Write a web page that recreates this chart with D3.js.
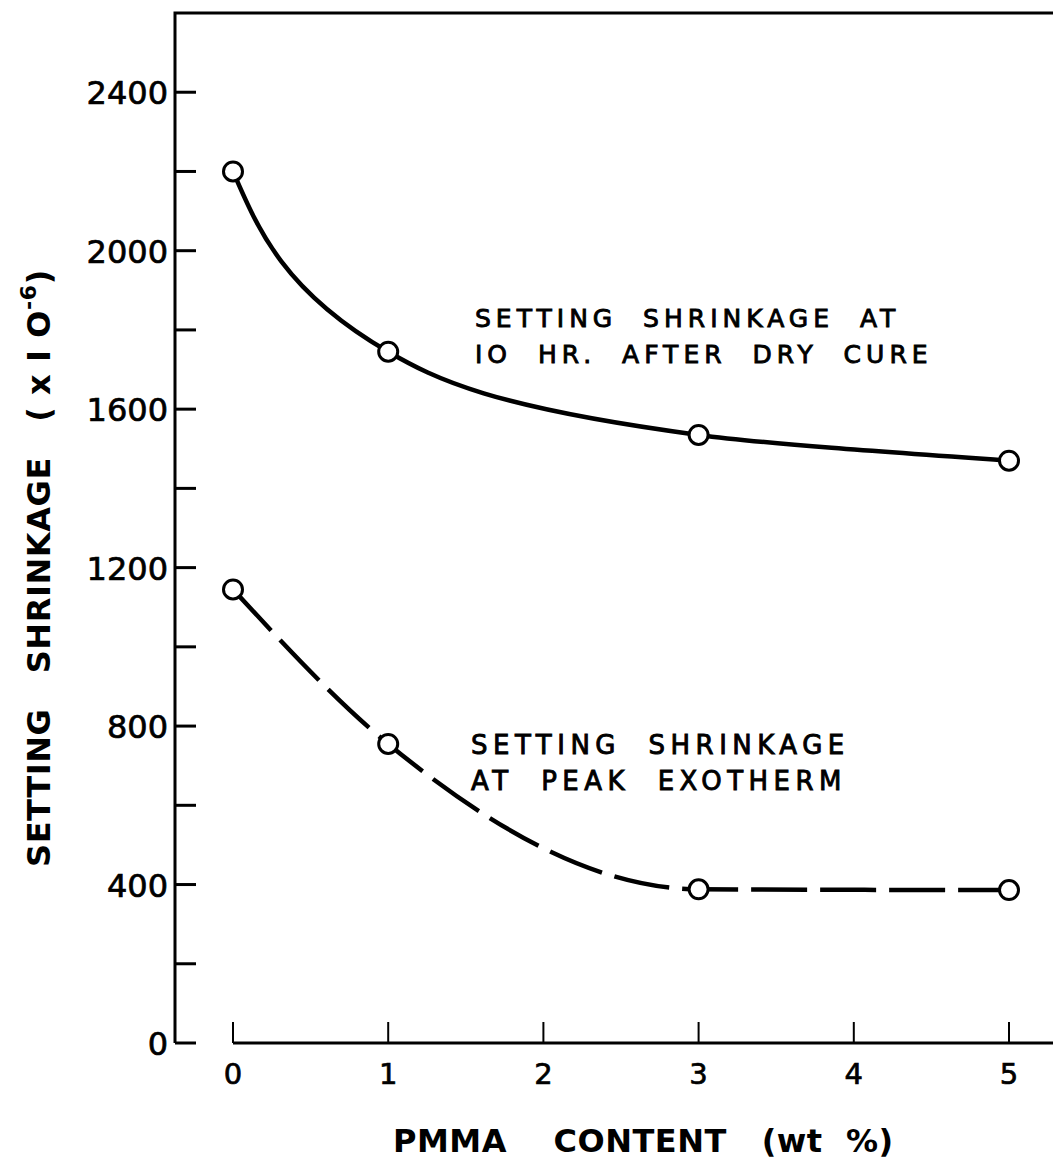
<!DOCTYPE html>
<html>
  <body style="margin:0;background:#fff">
    <style>
      svg { display: block; }
      text { font-family: "DejaVu Sans", sans-serif; fill: #000; white-space: pre; }
      .num { font-size: 32px; }
      .title { font-size: 32px; font-weight: bold; }
      .note { stroke: #000; stroke-width: 0.9px; }
    </style>
    <script src="https://d3js.org/d3.v7.min.js"></script>
    <script type="text/javascript">
      const width = 1053;
      const height = 1159;

      const pmma = [0, 1, 3, 5];
      const dryCure = [2200, 1745, 1535, 1470];
      const peakExotherm = [1145, 755, 388, 386];

      const xTicks = [0, 1, 2, 3, 4, 5];
      const yMajor = [0, 400, 800, 1200, 1600, 2000, 2400];
      const yAll = [0, 200, 400, 600, 800, 1000, 1200, 1400, 1600, 1800, 2000, 2200, 2400];

      const svg = d3.select('body')
        .append('svg')
        .attr('width', width)
        .attr('height', height);

      const x = d3.scaleLinear().domain([0, 5]).range([233, 1009]);
      const y = d3.scaleLinear().domain([0, 2600]).range([1043, 13]);

      // frame: left axis + top line
      svg.append('path')
        .attr('d', `M${width},${y(2600)}H175V${y(0)}`)
        .attr('fill', 'none')
        .attr('stroke', '#000')
        .attr('stroke-width', 3);

      // y ticks
      svg.append('g')
        .selectAll('line')
        .data(yAll)
        .enter()
        .append('line')
        .attr('x1', 175)
        .attr('x2', 196)
        .attr('y1', (d) => y(d))
        .attr('y2', (d) => y(d))
        .attr('stroke', '#000')
        .attr('stroke-width', 3);

      svg.append('g')
        .selectAll('text')
        .data(yMajor)
        .enter()
        .append('text')
        .attr('class', 'num')
        .attr('x', 168)
        .attr('y', (d) => y(d) + 12)
        .attr('text-anchor', 'end')
        .attr('stroke', '#000')
        .attr('stroke-width', 0.7)
        .text((d) => d);

      // x axis
      svg.append('line')
        .attr('x1', x(0))
        .attr('x2', width)
        .attr('y1', y(0))
        .attr('y2', y(0))
        .attr('stroke', '#000')
        .attr('stroke-width', 3);

      svg.append('g')
        .selectAll('line')
        .data(xTicks)
        .enter()
        .append('line')
        .attr('x1', (d) => x(d))
        .attr('x2', (d) => x(d))
        .attr('y1', y(0))
        .attr('y2', y(0) - 21)
        .attr('stroke', '#000')
        .attr('stroke-width', 2);

      svg.append('g')
        .selectAll('text')
        .data(xTicks)
        .enter()
        .append('text')
        .attr('x', (d) => x(d))
        .attr('y', 1084)
        .attr('text-anchor', 'middle')
        .attr('font-size', 29)
        .attr('stroke', '#000')
        .attr('stroke-width', 0.7)
        .text((d) => d);

      // titles
      svg.append('text')
        .attr('class', 'title')
        .attr('x', 393)
        .attr('y', 1152)
        .attr('letter-spacing', 0.5)
        .text('PMMA    CONTENT   (wt  %)');

      const yt = svg.append('text')
        .attr('class', 'title')
        .attr('transform', 'translate(50,568) rotate(-90)')
        .attr('text-anchor', 'middle')
        .attr('letter-spacing', 0.6);
      yt.append('tspan').text('SETTING   SHRINKAGE   ( x I O');
      yt.append('tspan').attr('font-size', 22).attr('dy', -14).text('-6');
      yt.append('tspan').attr('dy', 14).text(')');

      // curves: solid one bends like a decay, dashed one flattens out
      const series = [
        { values: dryCure, dash: null, curve: d3.curveMonotoneY },
        { values: peakExotherm, dash: '56 13', curve: d3.curveMonotoneX },
      ];

      series.forEach((s) => {
        const pts = pmma.map((p, i) => [p, s.values[i]]);
        const line = d3.line()
          .x((d) => x(d[0]))
          .y((d) => y(d[1]))
          .curve(s.curve);
        svg.append('path')
          .datum(pts)
          .attr('d', line)
          .attr('fill', 'none')
          .attr('stroke', '#000')
          .attr('stroke-width', 4.5)
          .attr('stroke-dasharray', s.dash);
        svg.append('g')
          .selectAll('circle')
          .data(pts)
          .enter()
          .append('circle')
          .attr('cx', (d) => x(d[0]))
          .attr('cy', (d) => y(d[1]))
          .attr('r', 9.5)
          .attr('fill', '#fff')
          .attr('stroke', '#000')
          .attr('stroke-width', 3);
      });

      // annotations
      const notes = [
        { x: 475, y: 327, s: 25, ls: 5, t: 'SETTING  SHRINKAGE  AT' },
        { x: 475, y: 363, s: 25, ls: 5, t: 'IO  HR.  AFTER  DRY  CURE' },
        { x: 471, y: 754, s: 26, ls: 5.5, t: 'SETTING  SHRINKAGE' },
        { x: 471, y: 790, s: 26, ls: 5.5, t: 'AT  PEAK  EXOTHERM' },
      ];
      svg.append('g')
        .selectAll('text')
        .data(notes)
        .enter()
        .append('text')
        .attr('class', 'note')
        .attr('x', (d) => d.x)
        .attr('y', (d) => d.y)
        .attr('font-size', (d) => d.s)
        .attr('letter-spacing', (d) => d.ls)
        .text((d) => d.t);
    </script>
  </body>
</html>
